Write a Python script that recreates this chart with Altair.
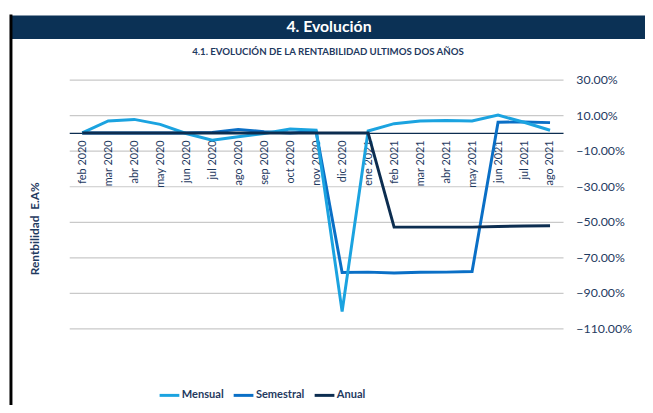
import altair as alt
import pandas as pd

labels = ["feb 2020", "mar 2020", "abr 2020", "may 2020", "jun 2020", "jul 2020",
          "ago 2020", "sep 2020", "oct 2020", "nov 2020", "dic 2020", "ene 2021",
          "feb 2021", "mar 2021", "abr 2021", "may 2021", "jun 2021", "jul 2021",
          "ago 2021"]
mensual = [0.0, 6.7, 7.6, 4.8, -0.3, -4.1, -2.2, -0.3, 2.2, 1.5, -100.5, 1.1,
           5.2, 6.7, 7.0, 6.7, 10.0, 6.0, 1.5]
semestral = [0.0, 0.0, 0.0, 0.0, 0.0, 0.3, 2.0, 0.7, 0.0, 0.8, -78.5, -78.3,
             -78.8, -78.4, -78.3, -78.0, 6.0, 6.2, 5.8]
anual = [0.0, 0.0, 0.0, 0.0, 0.0, 0.0, 0.0, 0.0, 0.0, 0.0, 0.0, 0.0,
         -53.0, -53.0, -53.0, -53.0, -52.6, -52.3, -52.2]
series_names = ["Mensual", "Semestral", "Anual"]
series_colors = ["#1BA3E0", "#0A6FC6", "#0C2D50"]
y_ticks = [30, 10, -10, -30, -50, -70, -90, -110]

rows = []
for name, vals in zip(series_names, [mensual, semestral, anual]):
    for i, (lab, v) in enumerate(zip(labels, vals)):
        rows.append({"mes": lab, "serie": name, "valor": v, "orden": i})
df = pd.DataFrame(rows)

NAVY = "#1F3A5F"
FONT = "Lato"
W, H = 500, 252

x_enc = alt.X("mes:N", sort=labels, title=None,
              scale=alt.Scale(paddingInner=0, paddingOuter=0.5),
              axis=alt.Axis(orient="bottom", offset=-198, labelAngle=270,
                            labelFont=FONT, labelFontSize=11, labelColor=NAVY,
                            labelPadding=7, ticks=False, domainColor="#0C2D50",
                            domainWidth=1.2, grid=False))
y_enc = alt.Y("valor:Q", title=None,
              scale=alt.Scale(domain=[-110, 30], nice=False, zero=False),
              axis=alt.Axis(orient="right", values=y_ticks,
                            labelExpr="format(datum.value, '.2f') + '%'",
                            labelFont=FONT, labelFontSize=12.5, labelColor=NAVY,
                            labelPadding=13, ticks=False, domain=False,
                            grid=True, gridColor="#C9C9C9", gridWidth=1.2))
color_enc = alt.Color("serie:N", scale=alt.Scale(domain=series_names, range=series_colors),
                      legend=alt.Legend(orient="none", legendX=90, legendY=308,
                                        direction="horizontal", title=None,
                                        symbolType="stroke", symbolStrokeWidth=3,
                                        symbolSize=400, labelFont=FONT,
                                        labelFontWeight="bold", labelFontSize=11.2,
                                        labelColor=NAVY, columnPadding=3,
                                        labelOffset=1))

def line_layer(name, width):
    return alt.Chart(df).transform_filter(
        alt.datum.serie == name
    ).mark_line(strokeWidth=width, strokeJoin="miter").encode(
        x=x_enc, y=y_enc, color=color_enc, order="orden:Q")

one = alt.Data(values=[{}])

title_bar = alt.Chart(one).mark_rect(color="#0B3155").encode(
    x=alt.value(-60), x2=alt.value(600), y=alt.value(-65), y2=alt.value(-41))
title_txt = alt.Chart(one).mark_text(font=FONT, fontWeight="bold", fontSize=16,
                                     color="white").encode(
    x=alt.value(263), y=alt.value(-53), text=alt.value("4. Evolución"))
sub_txt = alt.Chart(one).mark_text(font=FONT, fontWeight="bold", fontSize=9.8,
                                   color=NAVY).encode(
    x=alt.value(262), y=alt.value(-28),
    text=alt.value("4.1. EVOLUCIÓN DE LA RENTABILIDAD ULTIMOS DOS AÑOS"))
border = alt.Chart(one).mark_rule(color="black", strokeWidth=3).encode(
    x=alt.value(-59), y=alt.value(-66), y2=alt.value(340))
ytitle = alt.Chart(one).mark_text(font=FONT, fontWeight="bold", fontSize=12,
                                  color=NAVY, angle=270).encode(
    x=alt.value(-35), y=alt.value(151), text=alt.value("Rentbilidad\u00a0\u00a0E.A%"))

chart = alt.layer(
    title_bar, title_txt, sub_txt, border, ytitle,
    line_layer("Semestral", 3), line_layer("Mensual", 3), line_layer("Anual", 3),
).properties(
    width=W, height=H,
    autosize=alt.AutoSizeParams(type="none"),
    padding={"left": 62, "top": 70, "right": 83, "bottom": 75},
).configure_view(stroke=None)

chart.save("out.html", embed_options={"renderer": "svg", "actions": False})
